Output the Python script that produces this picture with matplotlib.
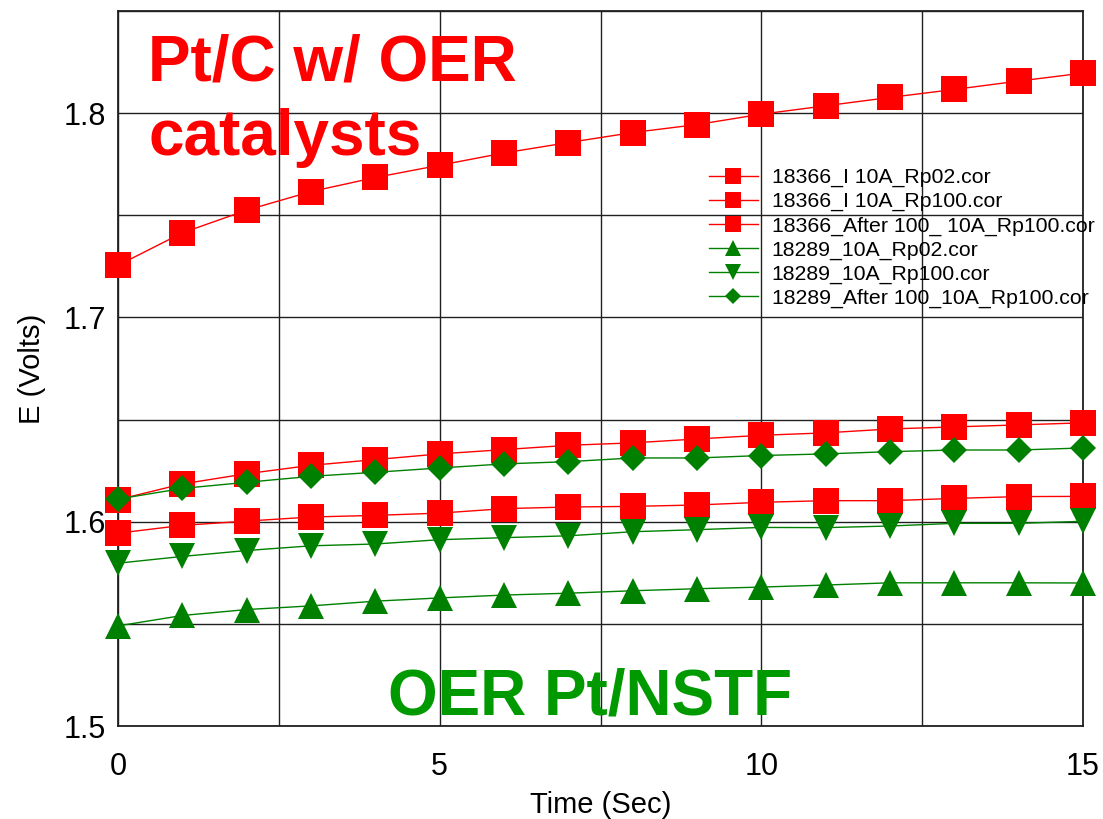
import matplotlib
matplotlib.use("Agg")
import matplotlib.pyplot as plt
from matplotlib.ticker import MultipleLocator, FixedLocator

plt.rcParams['font.family'] = ['Liberation Sans', 'DejaVu Sans']

time_s = list(range(16))

e_18366_rp02 = [1.7255, 1.7414, 1.7525, 1.7616, 1.7685, 1.7745, 1.7805, 1.7856,
                1.7905, 1.7944, 1.7995, 1.8036, 1.8077, 1.8116, 1.8157, 1.8196]
e_18366_rp100 = [1.6108, 1.6185, 1.6235, 1.6276, 1.6304, 1.6332, 1.6353, 1.6374,
                 1.6386, 1.6405, 1.6423, 1.6435, 1.6454, 1.6464, 1.6474, 1.6484]
e_18366_after = [1.5944, 1.5982, 1.6003, 1.6023, 1.6031, 1.6042, 1.6064, 1.6072,
                 1.6075, 1.6082, 1.6095, 1.6103, 1.6103, 1.6114, 1.6123, 1.6124]
e_18289_rp02 = [1.5490, 1.5541, 1.5570, 1.5588, 1.5611, 1.5627, 1.5641, 1.5650,
                1.5662, 1.5672, 1.5680, 1.5690, 1.5701, 1.5701, 1.5701, 1.5700]
e_18289_rp100 = [1.5797, 1.5830, 1.5859, 1.5882, 1.5891, 1.5912, 1.5922, 1.5931,
                 1.5951, 1.5961, 1.5972, 1.5971, 1.5979, 1.5992, 1.5992, 1.6002]
e_18289_after = [1.6111, 1.6163, 1.6193, 1.6222, 1.6242, 1.6263, 1.6283, 1.6294,
                 1.6312, 1.6312, 1.6324, 1.6332, 1.6343, 1.6351, 1.6351, 1.6361]

labels = ["18366_I 10A_Rp02.cor", "18366_I 10A_Rp100.cor",
          "18366_After 100_ 10A_Rp100.cor", "18289_10A_Rp02.cor",
          "18289_10A_Rp100.cor", "18289_After 100_10A_Rp100.cor"]

x_ticks = [0, 5, 10, 15]
y_ticks = [1.5, 1.6, 1.7, 1.8]

RED = '#ff0000'
GREEN = '#008000'

fig = plt.figure(figsize=(11.03, 8.19), dpi=100)
ax = fig.add_axes([118/1103, 1 - 726/819, (1083-118)/1103, (726-11)/819])

series = [
    (e_18366_rp02, RED, 's', 18.2),
    (e_18366_rp100, RED, 's', 18.2),
    (e_18366_after, RED, 's', 18.2),
    (e_18289_rp02, GREEN, '^', 18.5),
    (e_18289_rp100, GREEN, 'v', 18.5),
    (e_18289_after, GREEN, 'D', 13.3),
]
handles = []
for (vals, col, mk, ms), lab in zip(series, labels):
    h, = ax.plot(time_s, vals, color=col, marker=mk, markersize=ms, lw=1.0,
                 markeredgewidth=0, label=lab, clip_on=False, zorder=3)
    handles.append(h)

ax.set_xlim(0, 15)
ax.set_ylim(1.5, 1.85)
ax.xaxis.set_major_locator(FixedLocator(x_ticks))
ax.xaxis.set_minor_locator(MultipleLocator(2.5))
ax.yaxis.set_major_locator(FixedLocator(y_ticks))
ax.yaxis.set_minor_locator(MultipleLocator(0.05))
ax.grid(True, which='both', color='#202020', lw=1.0)
ax.set_axisbelow(True)
ax.tick_params(which='both', length=0)
ax.tick_params(axis='x', labelsize=22, pad=18.5)
ax.tick_params(axis='y', labelsize=22, pad=9)
for s in ax.spines.values():
    s.set_linewidth(1.3)
    s.set_color('#202020')

ax.set_xlabel('Time (Sec)', fontsize=21, labelpad=7)
ax.set_ylabel('E (Volts)', fontsize=21, labelpad=12)

leg = fig.legend(handles=handles, labels=labels, loc='center left',
                 bbox_to_anchor=(709/1103, 1 - 238/819), frameon=False,
                 fontsize=15.3, markerscale=0.6, handlelength=2.3,
                 handletextpad=0.65, labelspacing=0.23, borderpad=0,
                 borderaxespad=0)

fig.text(148/1103, 1 - 81/819, 'Pt/C w/ OER', color=RED,
         fontsize=46, fontweight='bold', ha='left', va='baseline')
fig.text(148/1103, 1 - 155/819, 'catalysts', color=RED,
         fontsize=46, fontweight='bold', ha='left', va='baseline')
fig.text(388/1103, 1 - 714/819, 'OER Pt/NSTF', color='#009900',
         fontsize=46, fontweight='bold', ha='left', va='baseline')

fig.savefig('out.png', dpi=100)
